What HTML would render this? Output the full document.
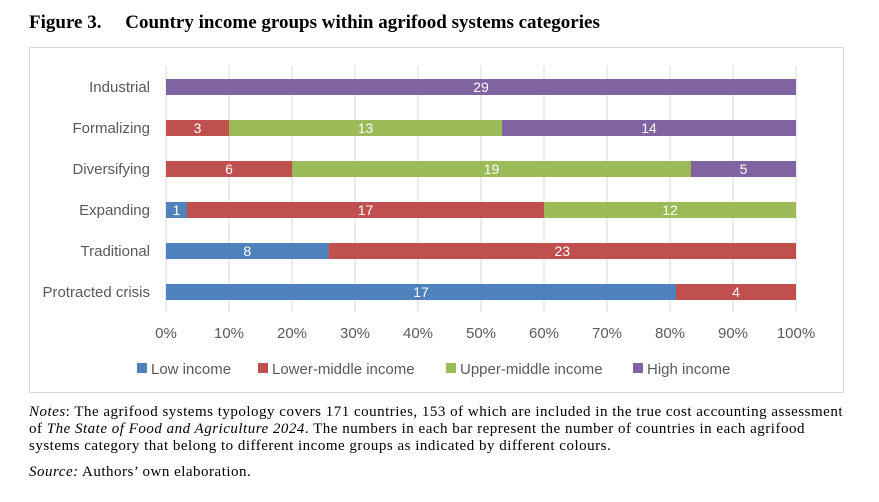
<!DOCTYPE html>
<html><head><meta charset="utf-8"><style>
body{margin:0;background:#fff;width:879px;height:502px;overflow:hidden;position:relative;font-family:"Liberation Serif",serif}
#title{position:absolute;left:29px;top:12px;font-weight:bold;font-size:19px;color:#000}
#box{position:absolute;left:29px;top:47px;width:815px;height:346px;border:1px solid #d9d9d9;box-sizing:border-box}
.note{position:absolute;left:29px;font-size:15px;line-height:17px;color:#000;width:822px;letter-spacing:0.5px}
</style></head><body>
<div id="title">Figure 3.&nbsp;&nbsp;&nbsp;&nbsp;&nbsp;Country income groups within agrifood systems categories</div>
<div id="box"></div>
<svg id="chart" width="879" height="502" style="position:absolute;left:0;top:0"></svg>
<div class="note" style="top:404px"><i>Notes</i>: The agrifood systems typology covers 171 countries, 153 of which are included in the true cost accounting assessment of <i>The State of Food and Agriculture 2024</i>. The numbers in each bar represent the number of countries in each agrifood systems category that belong to different income groups as indicated by different colours.</div>
<div class="note" style="top:464px"><i>Source:</i> Authors’ own elaboration.</div>
<script>
const categories=["Industrial","Formalizing","Diversifying","Expanding","Traditional","Protracted crisis"];
const seriesNames=["Low income","Lower-middle income","Upper-middle income","High income"];
const lowIncome=[0,0,0,1,8,17];
const lowerMiddle=[0,3,6,17,23,4];
const upperMiddle=[0,13,19,12,0,0];
const highIncome=[29,14,5,0,0,0];
const ticks=[0,10,20,30,40,50,60,70,80,90,100];
const colors=["#4f81bd","#c0504d","#9bbb59","#8064a2"];
const series=[lowIncome,lowerMiddle,upperMiddle,highIncome];
const NS="http://www.w3.org/2000/svg";
const svg=document.getElementById('chart');
const x0=166,x1=796,plotTop=66,rowH=41,barH=16;
const xs=p=>x0+(x1-x0)*p/100;
const yc=i=>plotTop+21+i*rowH;
function mk(t,a){const e=document.createElementNS(NS,t);for(const k in a)e.setAttribute(k,a[k]);svg.appendChild(e);return e;}
ticks.forEach(t=>{
 const l=mk('line',{x1:xs(t),x2:xs(t),y1:plotTop,y2:312,stroke:'#d9d9d9','stroke-width':1});
 
 
 const tx=mk('text',{x:xs(t),y:338,'text-anchor':'middle','font-size':15,fill:'#595959','font-family':'Liberation Sans, sans-serif'});
 tx.textContent=t+'%';
 
 
});
categories.forEach((c,i)=>{
 const lb=mk('text',{x:150,y:yc(i)+5,'text-anchor':'end','font-size':15,fill:'#595959','font-family':'Liberation Sans, sans-serif'});
 lb.textContent=c;
 
 
 const tot=series.reduce((s,a)=>s+a[i],0);
 let acc=0;
 series.forEach((a,k)=>{
  const v=a[i]; if(!v) return;
  const p0=acc/tot*100,p1=(acc+v)/tot*100; acc+=v;
  const r=mk('rect',{x:xs(p0),y:yc(i)-barH/2,width:xs(p1)-xs(p0),height:barH,fill:colors[k]});
  
  
  const t=mk('text',{x:(xs(p0)+xs(p1))/2,y:yc(i)+5,'text-anchor':'middle','font-size':14,fill:'#fff','font-family':'Liberation Sans, sans-serif'});
  t.textContent=v;
  
  
 });
});
const lx=[137,258,446,633];
seriesNames.forEach((n,k)=>{
 const r=mk('rect',{x:lx[k],y:363,width:10,height:10,fill:colors[k]});
 
 
 const t=mk('text',{x:lx[k]+14,y:374,'font-size':15,fill:'#595959','font-family':'Liberation Sans, sans-serif'});
 t.textContent=n;
 
 
});
</script>
</body></html>
